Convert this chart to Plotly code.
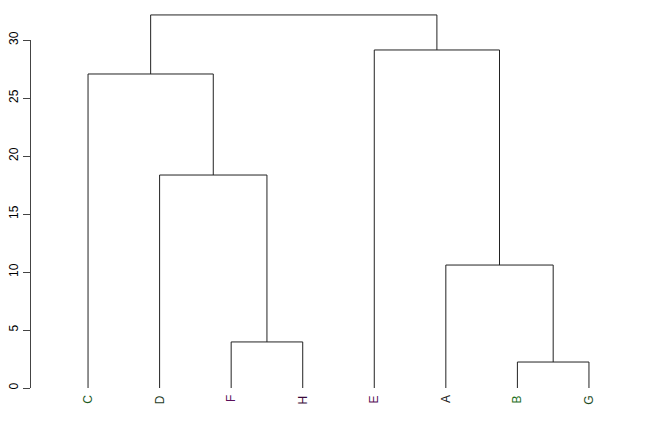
import plotly.graph_objects as go

# Leaf order and labels
labels = ["C", "D", "F", "H", "E", "A", "B", "G"]
label_colors = ["#1f5c1f", "#1f3d1f", "#5a105a", "#3a0a3a", "#5a105a", "#1a1a1a", "#1f701f", "#1f4d1f"]

# Merges: (left cluster, right cluster, height)
merges = [
    ("F", "H", 3.97),
    ("B", "G", 2.24),
    ("A", "BG", 10.6),
    ("D", "FH", 18.36),
    ("C", "DFH", 27.07),
    ("E", "ABG", 29.14),
    ("CDFH", "EABG", 32.16),
]
y_ticks = [0, 5, 10, 15, 20, 25, 30]

pos = {lab: (i + 1, 0.0) for i, lab in enumerate(labels)}
xs, ys = [], []
for a, b, h in merges:
    xa, ha = pos[a]
    xb, hb = pos[b]
    xs += [xa, xa, xb, xb, None]
    ys += [ha, h, h, hb, None]
    pos[a + b] = ((xa + xb) / 2, h)

fig = go.Figure()
fig.add_trace(go.Scatter(x=xs, y=ys, mode="lines",
                         line=dict(color="#222222", width=1),
                         hoverinfo="skip", showlegend=False))
# invisible trace for the y axis
fig.add_trace(go.Scatter(x=[1], y=[0], yaxis="y2", mode="markers",
                         marker=dict(opacity=0), showlegend=False, hoverinfo="skip"))

for i, lab in enumerate(labels):
    fig.add_annotation(x=i + 1, y=-0.45, text=lab, showarrow=False, textangle=-90,
                       xanchor="center", yanchor="top",
                       font=dict(color=label_colors[i], size=12, family="Liberation Sans"))

W, H = 648, 432
l, r, t, b = 20, 39, 5, 29
pw = W - l - r
ph = H - t - b
xdom0 = (68 - l) / pw
ppu = 11.6
y_lo = -(403 - 388) / ppu
y_hi = (388 - 5) / ppu

fig.update_layout(
    width=W, height=H,
    margin=dict(l=l, r=r, t=t, b=b, autoexpand=False),
    plot_bgcolor="rgba(0,0,0,0)", paper_bgcolor="white",
    font=dict(family="Liberation Sans", size=12, color="black"),
    xaxis=dict(domain=[xdom0, 1], range=[0.72, 8.28], visible=False),
    yaxis=dict(range=[y_lo, y_hi], visible=False),
    yaxis2=dict(domain=[(403 - 388) / ph, (403 - 40) / ph], range=[0, 30],
                anchor="free", position=(30 - l) / pw,
                tickvals=y_ticks, ticks="outside", ticklen=7, tickcolor="#444",
                showline=True, linecolor="#444", linewidth=1, showgrid=False,
                zeroline=False, tickangle=-90, automargin=False,
                tickfont=dict(size=12, family="Liberation Sans")),
)
fig.write_html("out.html", post_script="document.body.style.margin='0';",
               config={"displayModeBar": False})
